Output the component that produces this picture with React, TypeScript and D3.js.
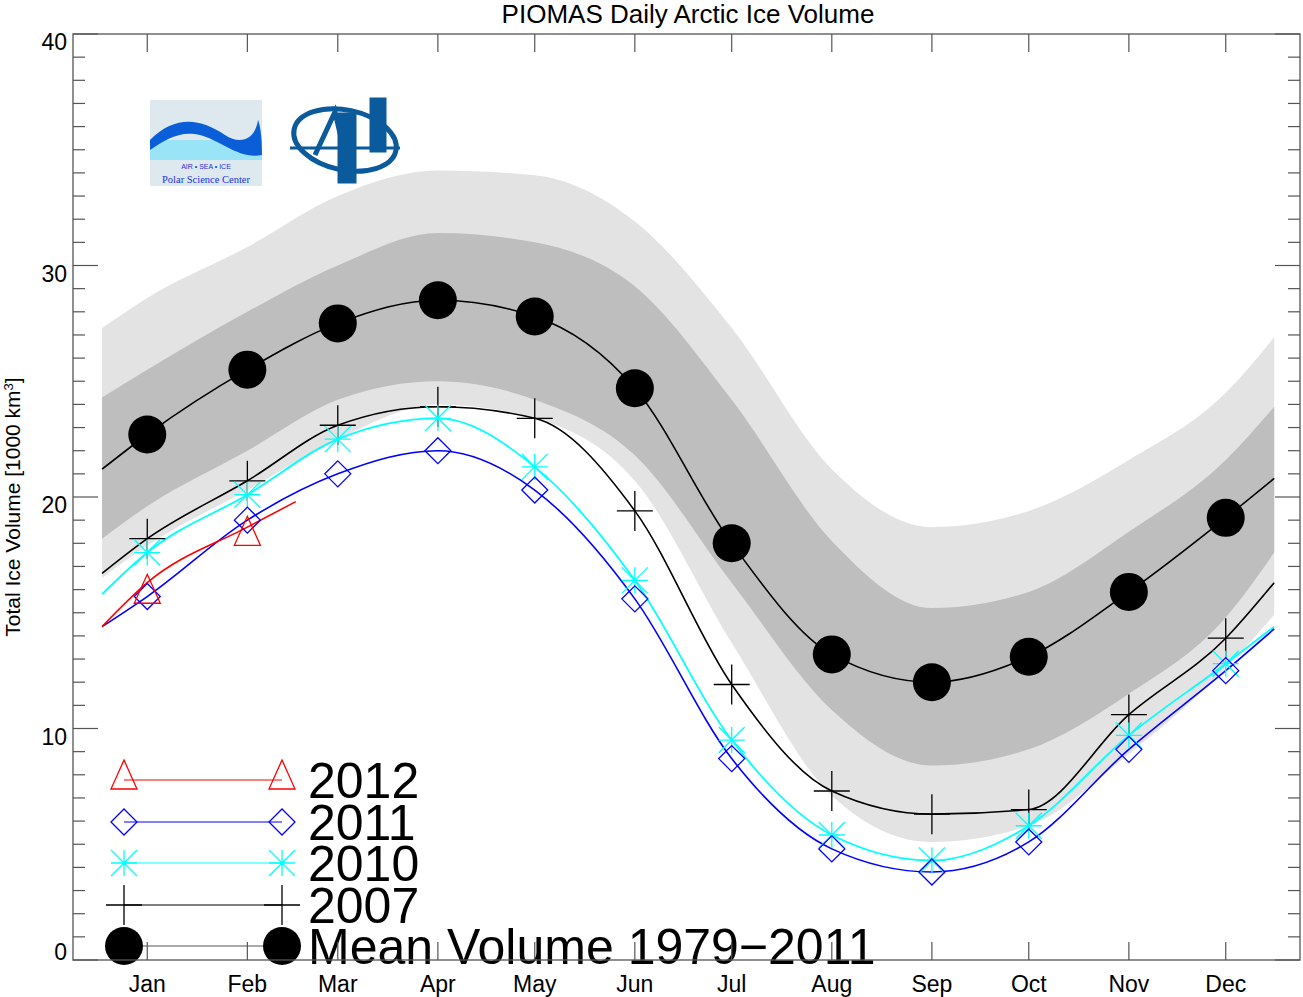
import React from 'react';
import * as d3 from 'd3';

const monthLabels = ['Jan', 'Feb', 'Mar', 'Apr', 'May', 'Jun', 'Jul', 'Aug', 'Sep', 'Oct', 'Nov', 'Dec'];
const monthDays = [15, 46, 74, 105, 135, 166, 196, 227, 258, 288, 319, 349];
// curve nodes: first day, mid-months, last day
const nodeDays = [1, ...monthDays, 364];

const meanVol = [21.2, 22.7, 25.5, 27.5, 28.5, 27.8, 24.7, 18.0, 13.2, 12.0, 13.1, 15.9, 19.1, 20.8];
const outerUpper = [27.3, 28.6, 30.8, 33.0, 34.1, 33.9, 31.9, 27.3, 21.2, 18.7, 19.4, 21.6, 24.5, 26.9];
const innerUpper = [24.3, 25.5, 28.0, 30.0, 31.4, 31.0, 29.1, 24.2, 18.1, 15.2, 15.9, 18.5, 21.6, 23.9];
const innerLower = [18.2, 19.6, 22.0, 24.2, 25.0, 24.2, 21.8, 16.3, 10.8, 8.4, 9.1, 11.5, 14.8, 17.6];
const outerLower = [16.5, 17.9, 20.3, 22.5, 24.0, 23.4, 20.7, 13.7, 7.1, 5.1, 5.8, 8.9, 12.6, 14.9];
const vol2007 = [16.7, 18.2, 20.7, 23.1, 23.9, 23.4, 19.4, 11.9, 7.3, 6.3, 6.5, 10.6, 13.9, 16.3];
const vol2010 = [15.8, 17.6, 20.1, 22.5, 23.4, 21.3, 16.4, 9.5, 5.4, 4.3, 5.8, 9.7, 12.8, 14.4];
const vol2011 = [14.4, 15.7, 19.0, 21.0, 22.0, 20.3, 15.6, 8.7, 4.8, 3.8, 5.1, 9.1, 12.5, 14.3];
const days2012 = [1, 15, 46, 61];
const vol2012 = [14.4, 16.3, 18.7, 19.8];
const marker2012 = [15.8, 18.3];

const W = 1303, H = 997;
const L = 73, R = 1300, T = 34, B = 960;
const x = d3.scaleLinear().domain([-8, 372]).range([L, R]);
const y = d3.scaleLinear().domain([0, 40]).range([B, T]);
const FONT = 'Liberation Sans, Arial, sans-serif';

const lineGen = d3.line<[number, number]>().x(d => x(d[0])).y(d => y(d[1])).curve(d3.curveMonotoneX);
const pts = (days: number[], v: number[]) => days.map((d, i) => [d, v[i]] as [number, number]);
const band = (up: number[], lo: number[]) =>
  d3.area<number>().x((_, i) => x(nodeDays[i])).y0((_, i) => y(lo[i])).y1((_, i) => y(up[i])).curve(d3.curveMonotoneX)(up) || '';

const Marker = ({ kind, cx, cy, color }: { kind: string; cx: number; cy: number; color: string }) => {
  if (kind === 'circle') return <circle cx={cx} cy={cy} r={19} fill="#000" />;
  if (kind === 'tri') return <path d={`M${cx},${cy - 20}L${cx + 13},${cy + 9}L${cx - 13},${cy + 9}Z`} fill="none" stroke={color} strokeWidth={1.3} />;
  if (kind === 'dia') return <path d={`M${cx},${cy - 13}L${cx + 13},${cy}L${cx},${cy + 13}L${cx - 13},${cy}Z`} fill="none" stroke={color} strokeWidth={1.3} />;
  if (kind === 'star') {
    const r = 13;
    return <path d={`M${cx - r},${cy}H${cx + r}M${cx},${cy - r}V${cy + r}M${cx - r},${cy - r}L${cx + r},${cy + r}M${cx - r},${cy + r}L${cx + r},${cy - r}`} stroke={color} strokeWidth={1.3} />;
  }
  return <path d={`M${cx - 18},${cy}H${cx + 18}M${cx},${cy - 20}V${cy + 20}`} stroke={color} strokeWidth={1.3} />;
};

const legend = [
  { label: '2012', kind: 'tri', color: '#ff0000', yy: 780 },
  { label: '2011', kind: 'dia', color: '#0000ff', yy: 822 },
  { label: '2010', kind: 'star', color: '#00ffff', yy: 863 },
  { label: '2007', kind: 'plus', color: '#000', yy: 905 },
  { label: 'Mean Volume 1979\u22122011', kind: 'circle', color: '#000', yy: 946 },
];

export default function App() {
  const yMinor = d3.range(0, 41, 1);
  return (
    <svg width={W} height={H} style={{ position: 'absolute', left: 0, top: 0, background: '#fff' }} fontFamily={FONT}>
      <text x={688} y={23} textAnchor="middle" fontSize={26}>PIOMAS Daily Arctic Ice Volume</text>
      <text transform={`translate(20,${(T + B) / 2 + 10}) rotate(-90)`} textAnchor="middle" fontSize={21}>
        Total Ice Volume [1000 km<tspan baselineShift="super" fontSize={13}>3</tspan>]
      </text>

      {/* logos */}
      <g>
        <rect x={150} y={100} width={112} height={86} fill="#dde9ee" />
        <rect x={150} y={140} width={112} height={20} fill="#99e4f6" />
        <path d="M150,140 C175,115 200,118 225,135 C240,145 255,140 258,120 C262,130 262,150 262,155 C240,160 220,140 200,135 C180,130 165,140 150,150Z" fill="#0a5fd8" />
        <text x={206} y={169} textAnchor="middle" fontSize={7} fill="#2233dd">AIR  •  SEA  •  ICE</text>
        <text x={206} y={183} textAnchor="middle" fontSize={10.5} fill="#2233dd" fontFamily="Liberation Serif, serif">Polar Science Center</text>
      </g>
      <g stroke="#0a5a9c" fill="none" strokeWidth={5}>
        <ellipse cx={345} cy={140} rx={52} ry={30} transform="rotate(12 345 140)" />
        <path d="M315,155 L335,112 L345,155" />
        <rect x={340} y={115} width={14} height={66} fill="#0a5a9c" />
        <rect x={372} y={100} width={12} height={50} fill="#0a5a9c" />
        <path d="M290,148 H400" strokeWidth={3} />
      </g>

      {/* bands */}
      <path d={band(outerUpper, outerLower)} fill="#e3e3e3" />
      <path d={band(innerUpper, innerLower)} fill="#bebebe" />

      {/* lines */}
      <path d={lineGen(pts(nodeDays, meanVol)) || ''} fill="none" stroke="#000" strokeWidth={1.6} />
      <path d={lineGen(pts(nodeDays, vol2007)) || ''} fill="none" stroke="#000" strokeWidth={1.6} />
      <path d={lineGen(pts(nodeDays, vol2010)) || ''} fill="none" stroke="#00ffff" strokeWidth={1.8} />
      <path d={lineGen(pts(nodeDays, vol2011)) || ''} fill="none" stroke="#0000ff" strokeWidth={1.6} />
      <path d={lineGen(pts(days2012, vol2012)) || ''} fill="none" stroke="#ff0000" strokeWidth={1.6} />

      {monthDays.map((d, i) => (
        <g key={i}>
          <Marker kind="circle" cx={x(d)} cy={y(meanVol[i + 1])} color="#000" />
          <Marker kind="plus" cx={x(d)} cy={y(vol2007[i + 1])} color="#000" />
          <Marker kind="star" cx={x(d)} cy={y(vol2010[i + 1])} color="#00ffff" />
          <Marker kind="dia" cx={x(d)} cy={y(vol2011[i + 1])} color="#0000ff" />
        </g>
      ))}
      {marker2012.map((v, i) => <Marker key={i} kind="tri" cx={x(monthDays[i])} cy={y(v)} color="#ff0000" />)}

      {/* legend */}
      {legend.map(l => (
        <g key={l.label}>
          <line x1={124} x2={282} y1={l.yy} y2={l.yy} stroke={l.kind === 'circle' ? '#555' : l.color} strokeWidth={1.2} />
          <Marker kind={l.kind} cx={124} cy={l.yy} color={l.color} />
          <Marker kind={l.kind} cx={282} cy={l.yy} color={l.color} />
          <text x={308} y={l.yy + 18} fontSize={50}>{l.label}</text>
        </g>
      ))}

      {/* frame and ticks */}
      <rect x={L} y={T} width={R - L} height={B - T} fill="none" stroke="#555" strokeWidth={1.3} />
      {yMinor.map(v => {
        const len = v % 10 === 0 ? 25 : 12;
        return (
          <g key={v} stroke="#555" strokeWidth={1.2}>
            <line x1={L} x2={L + len} y1={y(v)} y2={y(v)} />
            <line x1={R} x2={R - len} y1={y(v)} y2={y(v)} />
          </g>
        );
      })}
      {monthDays.map((d, i) => (
        <g key={i} stroke="#555" strokeWidth={1.2}>
          <line x1={x(d)} x2={x(d)} y1={T} y2={T + 18} />
          <line x1={x(d)} x2={x(d)} y1={B} y2={B - 18} />
        </g>
      ))}
      {[0, 10, 20, 30, 40].map(v => (
        <text key={v} x={L - 6} y={y(v) + (v === 0 ? 0 : 16)} textAnchor="end" fontSize={23}>{v}</text>
      ))}
      {monthLabels.map((m, i) => (
        <text key={m} x={x(monthDays[i])} y={992} textAnchor="middle" fontSize={23}>{m}</text>
      ))}
    </svg>
  );
}
